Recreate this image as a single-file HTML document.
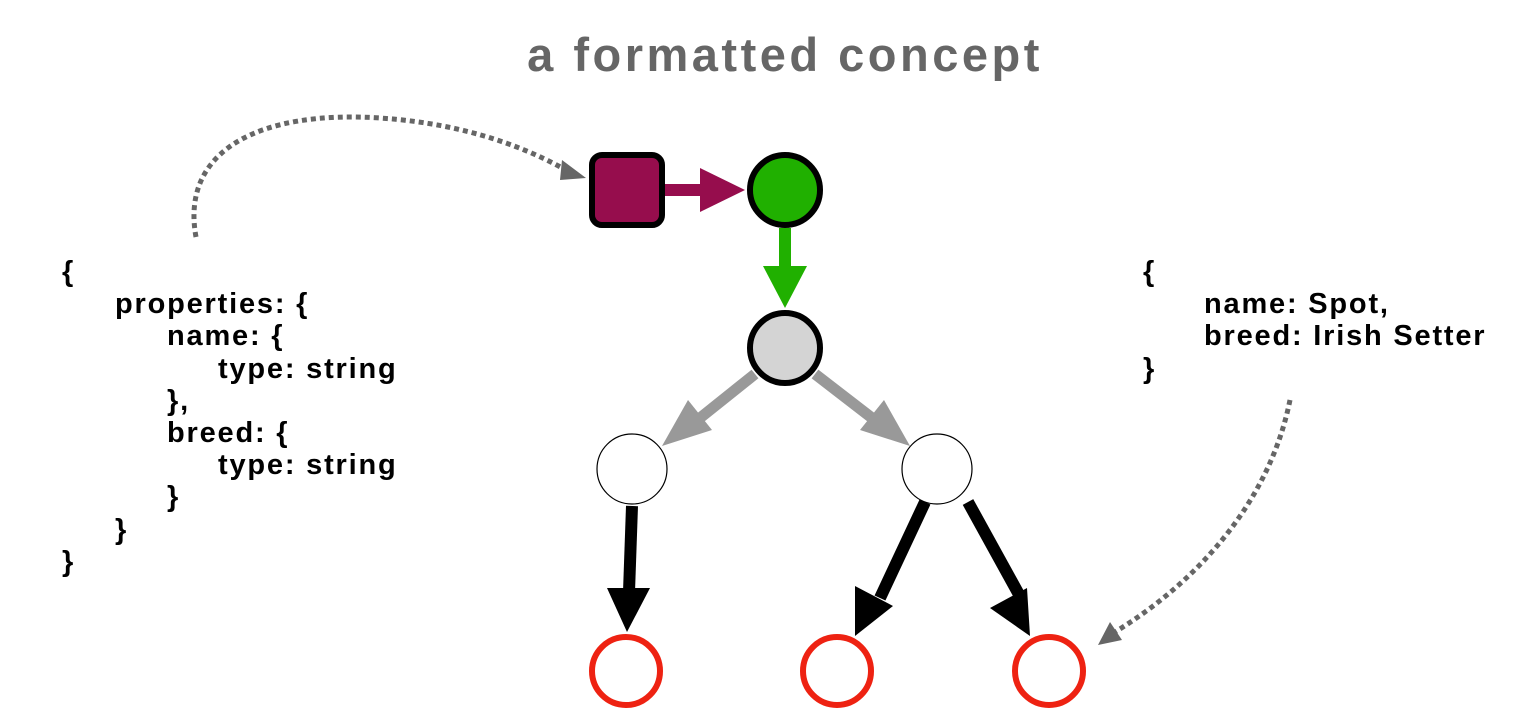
<!DOCTYPE html>
<html><head><style>
html,body{margin:0;padding:0;background:#fff;width:1524px;height:728px;overflow:hidden}
.t{position:absolute;font-family:"Liberation Sans",Arial,sans-serif;font-weight:bold;color:#000;font-size:29px;letter-spacing:1.8px;line-height:32.2px;white-space:pre}
.l{position:absolute;left:0;white-space:pre}
</style></head><body>
<div class="t" style="left:0;width:1570px;text-align:center;top:28px;font-size:47px;letter-spacing:3.5px;line-height:54px;color:#666">a formatted concept</div>
<div class="t" style="left:62px;top:256px;width:500px;height:330px">
<div class="l" style="top:0;left:0">{</div>
<div class="l" style="top:32.2px;left:53px">properties: {</div>
<div class="l" style="top:64.4px;left:105px">name: {</div>
<div class="l" style="top:96.6px;left:156px">type: string</div>
<div class="l" style="top:128.8px;left:105px">},</div>
<div class="l" style="top:161px;left:105px">breed: {</div>
<div class="l" style="top:193.2px;left:156px">type: string</div>
<div class="l" style="top:225.4px;left:105px">}</div>
<div class="l" style="top:257.6px;left:53px">}</div>
<div class="l" style="top:289.8px;left:0">}</div>
</div>
<div class="t" style="left:1143px;top:256px;width:380px;height:140px">
<div class="l" style="top:0;left:0">{</div>
<div class="l" style="top:32.2px;left:61px">name: Spot,</div>
<div class="l" style="top:64.4px;left:61px">breed: Irish Setter</div>
<div class="l" style="top:96.6px;left:0">}</div>
</div>
<svg width="1524" height="728" style="position:absolute;left:0;top:0">
<path d="M196 237 C180 150 260 110 380 118 C470 124 530 150 566 170" fill="none" stroke="#666" stroke-width="5" stroke-dasharray="5 4"/>
<polygon points="586,178 562,160 560,180" fill="#666"/>
<path d="M1290 400 C1270 500 1200 580 1115 632" fill="none" stroke="#666" stroke-width="5" stroke-dasharray="5 4"/>
<polygon points="1098,645 1110,622 1122,640" fill="#666"/>
<rect x="592" y="155" width="70" height="70" rx="10" fill="#960d4d" stroke="#000" stroke-width="6"/>
<line x1="665" y1="190" x2="705" y2="190" stroke="#960d4d" stroke-width="12"/>
<polygon points="700,168 745,190 700,212" fill="#960d4d"/>
<circle cx="785" cy="190" r="35" fill="#20b000" stroke="#000" stroke-width="6"/>
<line x1="785" y1="228" x2="785" y2="268" stroke="#20b000" stroke-width="12"/>
<polygon points="763,266 807,266 785,308" fill="#20b000"/>
<circle cx="785" cy="348" r="35" fill="#d4d4d4" stroke="#000" stroke-width="6"/>
<line x1="755" y1="374" x2="700" y2="418" stroke="#999" stroke-width="11"/>
<polygon points="662,446 688,400 712,430" fill="#999"/>
<line x1="815" y1="374" x2="872" y2="418" stroke="#999" stroke-width="11"/>
<polygon points="910,446 860,430 884,400" fill="#999"/>
<circle cx="632" cy="469" r="35" fill="#fff" stroke="#000" stroke-width="1.2"/>
<circle cx="937" cy="469" r="35" fill="#fff" stroke="#000" stroke-width="1.2"/>
<line x1="632" y1="506" x2="629" y2="592" stroke="#000" stroke-width="12"/>
<polygon points="607,588 650,588 627,632" fill="#000"/>
<line x1="925" y1="502" x2="880" y2="598" stroke="#000" stroke-width="12"/>
<polygon points="855,586 893,606 855,636" fill="#000"/>
<line x1="968" y1="502" x2="1022" y2="600" stroke="#000" stroke-width="12"/>
<polygon points="990,608 1027,588 1030,636" fill="#000"/>
<circle cx="626" cy="671" r="34" fill="none" stroke="#ee2212" stroke-width="6"/>
<circle cx="837" cy="671" r="34" fill="none" stroke="#ee2212" stroke-width="6"/>
<circle cx="1049" cy="671" r="34" fill="none" stroke="#ee2212" stroke-width="6"/>
</svg>
</body></html>
